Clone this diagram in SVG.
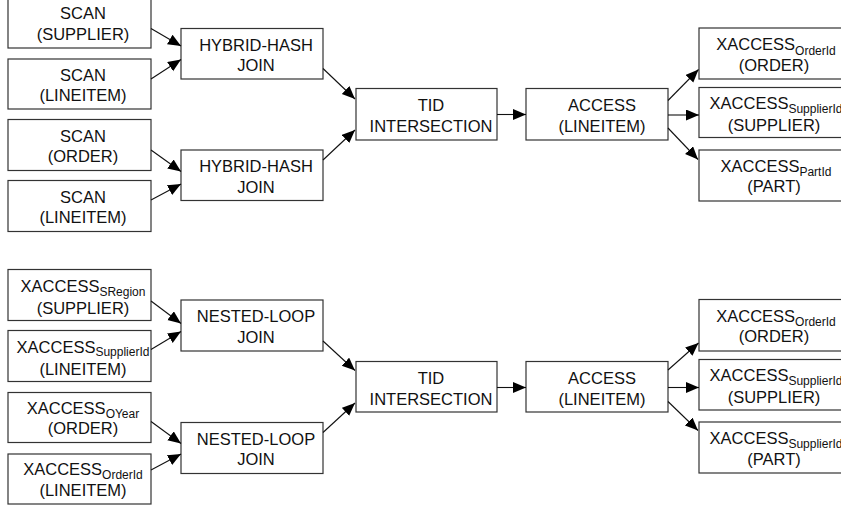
<svg xmlns="http://www.w3.org/2000/svg" width="841" height="508" viewBox="0 0 841 508">
<style>
  rect { fill: #ffffff; stroke: #333333; stroke-width: 1.2; }
  text { font-family: "Liberation Sans", Arial, Helvetica, sans-serif; font-size: 16.5px; fill: #111111; text-anchor: middle; }
  .sub { font-size: 12px; }
  line { stroke: #111111; stroke-width: 1.1; marker-end: url(#arr); }
</style>
<defs>
  <marker id="arr" markerUnits="userSpaceOnUse" markerWidth="14" markerHeight="12" refX="13" refY="5.5" orient="auto">
    <path d="M0,0 L13,5.5 L0,11 z" fill="#000000"/>
  </marker>
</defs>
<rect x="0" y="0" width="841" height="508" style="stroke:none;fill:#ffffff"/>

<!-- TOP SECTION -->
<g id="scan-supplier"><rect x="8" y="-3" width="143" height="51"/><text x="83" y="19">SCAN</text><text x="83" y="39.5">(SUPPLIER)</text></g>
<g id="scan-lineitem-1"><rect x="8" y="59" width="143" height="50"/><text x="83" y="80.5">SCAN</text><text x="83" y="101">(LINEITEM)</text></g>
<g id="scan-order"><rect x="8" y="119.5" width="143" height="51"/><text x="83" y="141.5">SCAN</text><text x="83" y="162">(ORDER)</text></g>
<g id="scan-lineitem-2"><rect x="8" y="180.5" width="143" height="51"/><text x="83" y="202.5">SCAN</text><text x="83" y="223">(LINEITEM)</text></g>

<g id="hhj-1"><rect x="181" y="28.5" width="142" height="50.5"/><text x="256" y="50.5">HYBRID-HASH</text><text x="256" y="71">JOIN</text></g>
<g id="hhj-2"><rect x="181" y="150" width="142" height="50.5"/><text x="256" y="172">HYBRID-HASH</text><text x="256" y="192.5">JOIN</text></g>

<g id="tid-1"><rect x="356" y="88.5" width="141" height="51.5"/><text x="431" y="110.5">TID</text><text x="431" y="131.5">INTERSECTION</text></g>
<g id="access-1"><rect x="526" y="88.5" width="142" height="51.5"/><text x="602" y="110.5">ACCESS</text><text x="602" y="131.5">(LINEITEM)</text></g>

<g id="xacc-order-1"><rect x="699" y="28" width="143" height="51"/><text x="776" y="50">XACCESS<tspan class="sub" dy="4.5">OrderId</tspan></text><text x="774" y="70.5">(ORDER)</text></g>
<g id="xacc-supplier-1"><rect x="699" y="87.5" width="143" height="50"/><text x="776" y="108.5">XACCESS<tspan class="sub" dy="4">SupplierId</tspan></text><text x="774" y="130.5">(SUPPLIER)</text></g>
<g id="xacc-part-1"><rect x="699" y="150" width="143" height="51"/><text x="776" y="171.5">XACCESS<tspan class="sub" dy="4.5">PartId</tspan></text><text x="774" y="192">(PART)</text></g>

<!-- BOTTOM SECTION -->
<g id="xacc-sregion"><rect x="8" y="269.5" width="143" height="51"/><text x="83" y="292">XACCESS<tspan class="sub" dy="4">SRegion</tspan></text><text x="83" y="313.5">(SUPPLIER)</text></g>
<g id="xacc-supplierid-li"><rect x="8" y="330.5" width="143" height="51"/><text x="83" y="352.5">XACCESS<tspan class="sub" dy="3.5">SupplierId</tspan></text><text x="83" y="375">(LINEITEM)</text></g>
<g id="xacc-oyear"><rect x="8" y="392.5" width="143" height="50"/><text x="83" y="413.5">XACCESS<tspan class="sub" dy="4">OYear</tspan></text><text x="83" y="434">(ORDER)</text></g>
<g id="xacc-orderid-li"><rect x="8" y="454" width="143" height="50"/><text x="83" y="475">XACCESS<tspan class="sub" dy="4">OrderId</tspan></text><text x="83" y="495.5">(LINEITEM)</text></g>

<g id="nlj-1"><rect x="181" y="300" width="142" height="51"/><text x="256" y="322">NESTED-LOOP</text><text x="256" y="342.5">JOIN</text></g>
<g id="nlj-2"><rect x="181" y="422.5" width="142" height="51"/><text x="256" y="444.5">NESTED-LOOP</text><text x="256" y="465">JOIN</text></g>

<g id="tid-2"><rect x="356" y="361.5" width="141" height="50.5"/><text x="431" y="383.5">TID</text><text x="431" y="404.5">INTERSECTION</text></g>
<g id="access-2"><rect x="526" y="361.5" width="142" height="50.5"/><text x="602" y="383.5">ACCESS</text><text x="602" y="404.5">(LINEITEM)</text></g>

<g id="xacc-order-2"><rect x="699" y="299.5" width="143" height="51.5"/><text x="776" y="321.5">XACCESS<tspan class="sub" dy="4.5">OrderId</tspan></text><text x="774" y="342">(ORDER)</text></g>
<g id="xacc-supplier-2"><rect x="699" y="359.5" width="143" height="50.5"/><text x="776" y="381">XACCESS<tspan class="sub" dy="4">SupplierId</tspan></text><text x="774" y="402.5">(SUPPLIER)</text></g>
<g id="xacc-part-2"><rect x="699" y="422" width="143" height="51"/><text x="776" y="444">XACCESS<tspan class="sub" dy="4">SupplierId</tspan></text><text x="774" y="465">(PART)</text></g>

<g id="connectors">
  <line x1="151" y1="28.5" x2="181" y2="46"/>
  <line x1="151" y1="79" x2="181" y2="59.5"/>
  <line x1="151" y1="150" x2="181" y2="171.5"/>
  <line x1="151" y1="200" x2="181" y2="184"/>
  <line x1="323" y1="68.5" x2="355" y2="99"/>
  <line x1="323" y1="160" x2="355" y2="130"/>
  <line x1="497" y1="114.5" x2="526" y2="114.5"/>
  <line x1="668" y1="100.5" x2="698.5" y2="69.5"/>
  <line x1="668" y1="115" x2="699" y2="115"/>
  <line x1="668" y1="128" x2="698" y2="159.5"/>

  <line x1="151" y1="301" x2="181" y2="323.5"/>
  <line x1="151" y1="349.5" x2="181" y2="331.5"/>
  <line x1="151" y1="421.5" x2="181" y2="443.5"/>
  <line x1="151" y1="470" x2="181" y2="454"/>
  <line x1="323" y1="341" x2="355" y2="370.5"/>
  <line x1="323" y1="432.5" x2="355" y2="403"/>
  <line x1="497" y1="387.5" x2="526" y2="387.5"/>
  <line x1="668" y1="370" x2="698.5" y2="343"/>
  <line x1="668" y1="387.5" x2="699" y2="387.5"/>
  <line x1="668" y1="401.5" x2="698" y2="430.5"/>
</g>
</svg>
